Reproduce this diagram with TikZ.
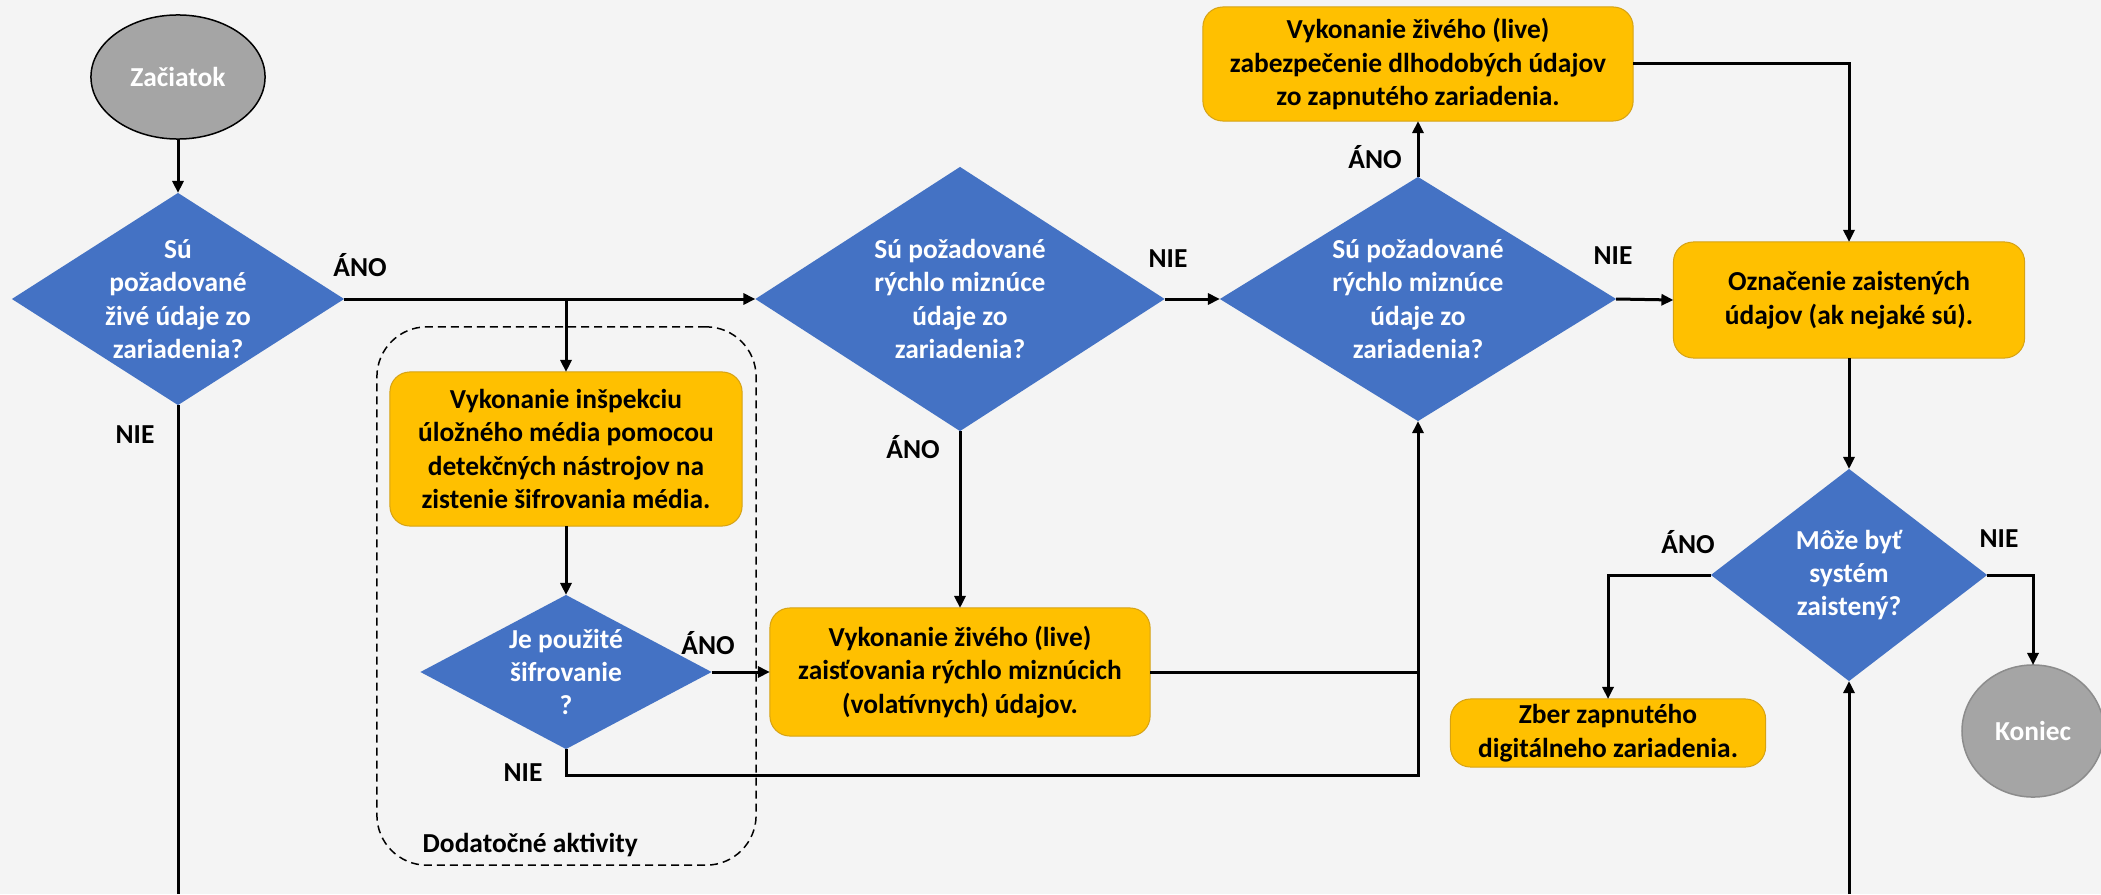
\documentclass[tikz,border=0pt]{standalone}
\usepackage{fontspec}
\setmainfont{Carlito}
\usetikzlibrary{shapes.geometric,arrows.meta}
\definecolor{bgpaper}{RGB}{244,244,244}
\definecolor{qblue}{RGB}{68,114,196}
\definecolor{ayellow}{RGB}{255,192,0}
\definecolor{aborder}{RGB}{214,162,20}
\definecolor{tgray}{RGB}{165,165,165}
\definecolor{tgrayline}{RGB}{140,140,140}
\begin{document}
\begin{tikzpicture}[x=0.01cm,y=-0.01cm,
  font=\fontsize{7.8pt}{9.5pt}\selectfont\bfseries,
  flow/.style={line width=0.03cm, draw=black},
  arr/.style={flow, -{Triangle[length=0.12cm,width=0.11cm]}},
  decision/.style={diamond, fill=qblue, draw=none, inner sep=0pt, outer sep=0pt},
  qtext/.style={text=white, align=center, inner sep=0pt},
  action/.style={rectangle, rounded corners=0.2cm, fill=ayellow, draw=aborder,
    line width=0.01cm, align=center, inner sep=0pt, outer sep=0pt},
  terminal/.style={ellipse, fill=tgray, text=white, inner sep=0pt, outer sep=0pt},
  tag/.style={inner sep=0pt, text=black},
  groupbox/.style={draw=black, line width=0.015cm, rounded corners=0.5cm,
    dash pattern=on 0.08cm off 0.05cm, inner sep=0pt},
]
% paper
\fill[bgpaper] (0,0) rectangle (2101,894);
\useasboundingbox (0,0) rectangle (2101,894);

% group of additional activities
\node[groupbox, minimum width=3.79cm, minimum height=5.38cm] (grp) at (566.5,596) {};
\node[tag, anchor=west] (grpl) at (422,845) {Dodatočné aktivity};

% start / end
\node[terminal, draw=black, line width=0.015cm, minimum width=1.74cm, minimum height=1.24cm] (start) at (178,77) {Začiatok};
\node[terminal, draw=tgrayline, line width=0.015cm, minimum width=1.42cm, minimum height=1.32cm] (end) at (2033,731) {Koniec};

% decisions
\node[decision, minimum width=3.32cm, minimum height=2.12cm] (d1) at (178,299) {};
\node[qtext] (d1t) at (d1) {Sú\\požadované\\živé údaje zo\\zariadenia?};

\node[decision, minimum width=4.09cm, minimum height=2.64cm] (d2) at (960,299) {};
\node[qtext] (d2t) at (d2) {Sú požadované\\rýchlo miznúce\\údaje zo\\zariadenia?};

\node[decision, minimum width=2.91cm, minimum height=1.54cm] (d3) at (566,672) {};
\node[qtext] (d3t) at (d3) {Je použité\\šifrovanie\\?};

\node[decision, minimum width=3.96cm, minimum height=2.44cm] (d4) at (1418,299) {};
\node[qtext] (d4t) at (d4) {Sú požadované\\rýchlo miznúce\\údaje zo\\zariadenia?};

\node[decision, minimum width=2.76cm, minimum height=2.12cm] (d5) at (1849,575) {};
\node[qtext] (d5t) at (d5) {Môže byť\\systém\\zaistený?};

% actions
\node[action, minimum width=3.52cm, minimum height=1.54cm] (box1) at (566,449)
  {Vykonanie inšpekciu\\úložného média pomocou\\detekčných nástrojov na\\zistenie šifrovania média.};
\node[action, minimum width=3.80cm, minimum height=1.28cm] (box2) at (960,672)
  {Vykonanie živého (live)\\zaisťovania rýchlo miznúcich\\(volatívnych) údajov.};
\node[action, minimum width=4.30cm, minimum height=1.14cm] (box3) at (1418,64)
  {Vykonanie živého (live)\\zabezpečenie dlhodobých údajov\\zo zapnutého zariadenia.};
\node[action, minimum width=3.51cm, minimum height=1.16cm] (box4) at (1849,300)
  {Označenie zaistených\\údajov (ak nejaké sú).};
\node[action, minimum width=3.15cm, minimum height=0.68cm] (box5) at (1608,733)
  {Zber zapnutého\\digitálneho zariadenia.};

% branch labels
\node[tag] (l1) at (360,265) {ÁNO};
\node[tag] (l2) at (135,435) {NIE};
\node[tag] (l3) at (913,447) {ÁNO};
\node[tag] (l4) at (1168,259) {NIE};
\node[tag] (l5) at (1375,157) {ÁNO};
\node[tag] (l6) at (1613,256) {NIE};
\node[tag] (l7) at (708,643) {ÁNO};
\node[tag] (l8) at (523,773) {NIE};
\node[tag] (l9) at (1688,542) {ÁNO};
\node[tag] (l10) at (1999,539) {NIE};

% helper points
\coordinate (j1) at (566,299);
\coordinate (j2) at (1418,775);
\coordinate (b1) at (178,894);
\coordinate (b2) at (1849,894);

% connectors
\draw[arr] (start.south) -- (d1.north);
\draw[arr] (d1.east) -- (d2.west);
\draw[arr] (j1) -- (box1.north);
\draw[arr] (box1.south) -- (d3.north);
\draw[arr] (d3.east) -- (box2.west);
\draw[arr] (d3.south) |- (j2) -- (d4.south);
\draw[flow] (box2.east) -- (box2.east -| d4.south);
\draw[arr] (d2.south) -- (box2.north);
\draw[arr] (d2.east) -- (d4.west);
\draw[arr] (d4.north) -- (box3.south);
\draw[arr] (box3.east) -| (box4.north);
\draw[arr] (d4.east) -- (box4.west);
\draw[arr] (box4.south) -- (d5.north);
\draw[arr] (d5.west) -| (box5.north);
\draw[arr] (d5.east) -| (end.north);
\draw[flow] (d1.south) -- (b1);
\draw[arr] (b2) -- (d5.south);
\end{tikzpicture}
\end{document}
